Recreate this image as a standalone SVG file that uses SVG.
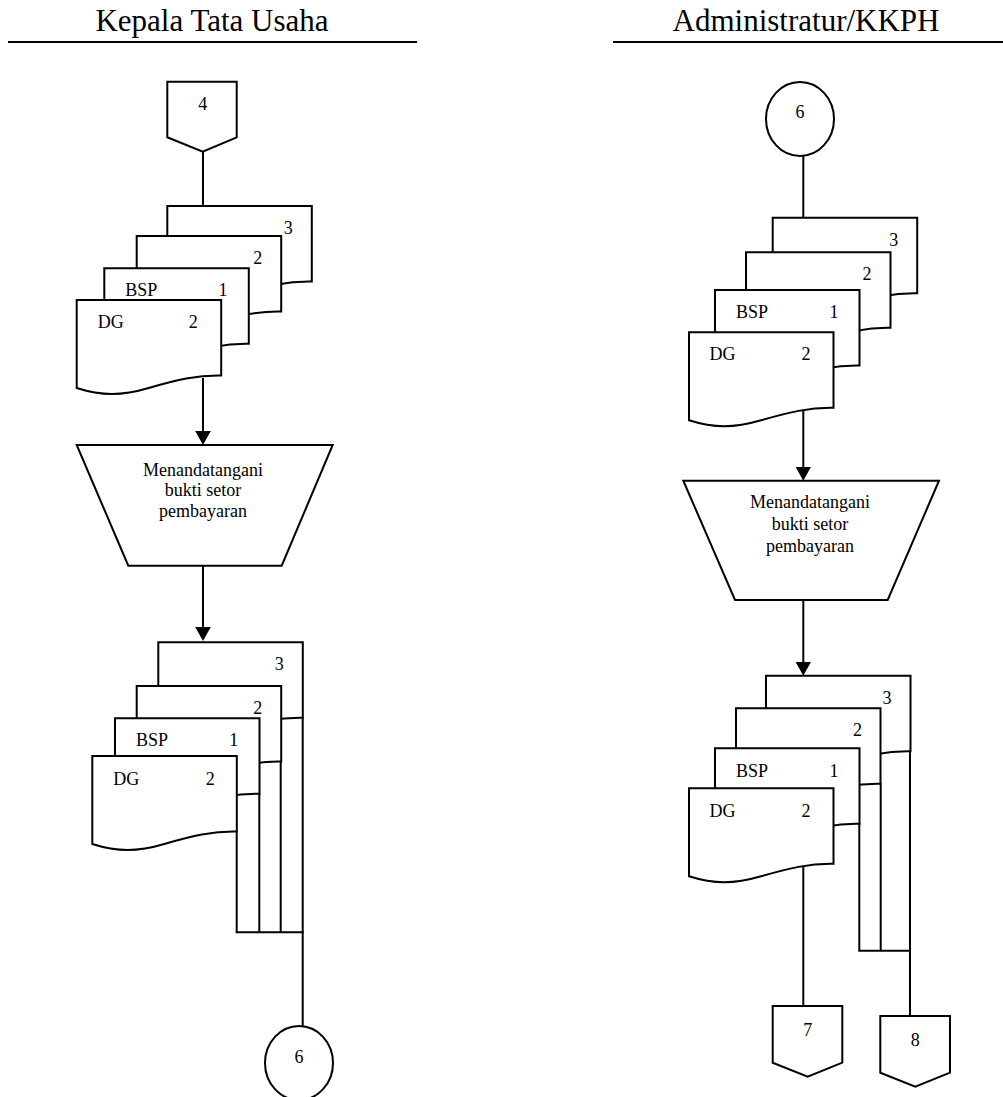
<svg xmlns="http://www.w3.org/2000/svg" xmlns:xlink="http://www.w3.org/1999/xlink" width="1003" height="1097" viewBox="0 0 1003 1097">
<style>
.s{fill:#fff;stroke:#000;stroke-width:2;stroke-linejoin:miter}
.ln{fill:none;stroke:#000;stroke-width:2}
.t{font-family:"Liberation Serif","Times New Roman",serif;font-size:18px;fill:#000}
.c{text-anchor:middle}
.h{font-family:"Liberation Serif","Times New Roman",serif;font-size:31px;fill:#000;text-anchor:middle}
</style>
<defs>
<path id="doc" d="M0,0 H144.5 V75.5 C120,75 100,80 72,88 C45,96 25,96 0,88 Z" fill="#fff" stroke="#000" stroke-width="2"/>
<marker id="arr" markerUnits="userSpaceOnUse" markerWidth="16" markerHeight="17" refX="1" refY="7.8" orient="auto" viewBox="0 0 16 17">
<path d="M0,0 L14,7.8 L0,15.6 Z" fill="#000"/>
</marker>
</defs>

<g id="headers">
<text class="h" x="212" y="31">Kepala Tata Usaha</text>
<line class="ln" x1="8" y1="42" x2="417" y2="42"/>
<text class="h" x="806" y="31">Administratur/KKPH</text>
<line class="ln" x1="613" y1="42" x2="1003" y2="42"/>
</g>

<g id="connectors">
<line class="ln" x1="203" y1="151" x2="203" y2="207"/>
<line class="ln" x1="203" y1="378" x2="203" y2="432" marker-end="url(#arr)"/>
<line class="ln" x1="203" y1="566" x2="203" y2="628" marker-end="url(#arr)"/>
<line class="ln" x1="236.7" y1="831" x2="236.7" y2="932.3"/>
<line class="ln" x1="259.3" y1="793" x2="259.3" y2="932.3"/>
<line class="ln" x1="280.7" y1="761" x2="280.7" y2="932.3"/>
<line class="ln" x1="302.7" y1="717" x2="302.7" y2="1027"/>
<line class="ln" x1="235.7" y1="932.3" x2="303.7" y2="932.3"/>
<line class="ln" x1="803.3" y1="156" x2="803.3" y2="218.7"/>
<line class="ln" x1="803.3" y1="409" x2="803.3" y2="467.7" marker-end="url(#arr)"/>
<line class="ln" x1="803.3" y1="600" x2="803.3" y2="662.7" marker-end="url(#arr)"/>
<line class="ln" x1="803.3" y1="865" x2="803.3" y2="1007"/>
<line class="ln" x1="859.3" y1="823" x2="859.3" y2="950.7"/>
<line class="ln" x1="880.7" y1="783" x2="880.7" y2="950.7"/>
<line class="ln" x1="910" y1="750" x2="910" y2="1017"/>
<line class="ln" x1="858.3" y1="950.7" x2="911" y2="950.7"/>
</g>

<g id="conn4">
<polygon class="s" points="167.3,81.7 236.7,81.7 236.7,137.3 202.7,151.7 167.3,137.3"/>
<text class="t c" x="202.7" y="110">4</text>
</g>

<g id="docs-left-top">
<g id="lt-doc3" transform="translate(167.3,206)"><use xlink:href="#doc"/><text class="t c" x="121" y="27.5">3</text></g>
<g id="lt-doc2" transform="translate(136.7,236)"><use xlink:href="#doc"/><text class="t c" x="121" y="28">2</text></g>
<g id="lt-doc1" transform="translate(104.3,268.3)"><use xlink:href="#doc"/><text class="t" x="21" y="28">BSP</text><text class="t c" x="118.7" y="28">1</text></g>
<g id="lt-dg" transform="translate(76.7,300)"><use xlink:href="#doc"/><text class="t" x="21" y="28">DG</text><text class="t c" x="116.5" y="28">2</text></g>
</g>

<g id="proc-left">
<polygon class="s" points="76.7,445 332.7,445 281.7,565.7 128.3,565.7"/>
<text class="t c" x="203" y="475.5">Menandatangani</text>
<text class="t c" x="203" y="496">bukti setor</text>
<text class="t c" x="203" y="516.5">pembayaran</text>
</g>

<g id="docs-left-bottom">
<g id="lb-doc3" transform="translate(158.3,642.3)"><use xlink:href="#doc"/><text class="t c" x="121" y="28">3</text></g>
<g id="lb-doc2" transform="translate(136.7,686)"><use xlink:href="#doc"/><text class="t c" x="121" y="28">2</text></g>
<g id="lb-doc1" transform="translate(115,718.3)"><use xlink:href="#doc"/><text class="t" x="21" y="28">BSP</text><text class="t c" x="118.7" y="28">1</text></g>
<g id="lb-dg" transform="translate(92.3,756)"><use xlink:href="#doc"/><text class="t" x="21" y="29">DG</text><text class="t c" x="118" y="29">2</text></g>
</g>

<g id="conn6-left">
<ellipse class="s" cx="299" cy="1063" rx="34" ry="37"/>
<text class="t c" x="299" y="1062.5">6</text>
</g>

<g id="conn6-right">
<ellipse class="s" cx="800" cy="119" rx="34" ry="37"/>
<text class="t c" x="800" y="118.3">6</text>
</g>

<g id="docs-right-top">
<g id="rt-doc3" transform="translate(772.7,217.7)"><use xlink:href="#doc"/><text class="t c" x="121" y="28">3</text></g>
<g id="rt-doc2" transform="translate(746,252.3)"><use xlink:href="#doc"/><text class="t c" x="121" y="28">2</text></g>
<g id="rt-doc1" transform="translate(715,290)"><use xlink:href="#doc"/><text class="t" x="21" y="28">BSP</text><text class="t c" x="119" y="28">1</text></g>
<g id="rt-dg" transform="translate(689,332.3)"><use xlink:href="#doc"/><text class="t" x="20.5" y="28">DG</text><text class="t c" x="117" y="28">2</text></g>
</g>

<g id="proc-right">
<polygon class="s" points="683.3,480.7 939,480.7 887.7,600 735,600"/>
<text class="t c" x="810" y="508">Menandatangani</text>
<text class="t c" x="810" y="530">bukti setor</text>
<text class="t c" x="810" y="552">pembayaran</text>
</g>

<g id="docs-right-bottom">
<g id="rb-doc3" transform="translate(766,675.7)"><use xlink:href="#doc"/><text class="t c" x="121" y="28.5">3</text></g>
<g id="rb-doc2" transform="translate(736,708.3)"><use xlink:href="#doc"/><text class="t c" x="121.5" y="28">2</text></g>
<g id="rb-doc1" transform="translate(715,748.3)"><use xlink:href="#doc"/><text class="t" x="21" y="28.5">BSP</text><text class="t c" x="119" y="28.5">1</text></g>
<g id="rb-dg" transform="translate(689,788.3)"><use xlink:href="#doc"/><text class="t" x="20.5" y="28.5">DG</text><text class="t c" x="117" y="28.5">2</text></g>
</g>

<g id="conn7">
<polygon class="s" points="772.7,1006 842.3,1006 842.3,1062.7 807.7,1076.7 772.7,1062.7"/>
<text class="t c" x="807.7" y="1035.5">7</text>
</g>

<g id="conn8">
<polygon class="s" points="880.3,1016 950,1016 950,1072.7 915.3,1086.7 880.3,1072.7"/>
<text class="t c" x="915.3" y="1045.5">8</text>
</g>
</svg>
